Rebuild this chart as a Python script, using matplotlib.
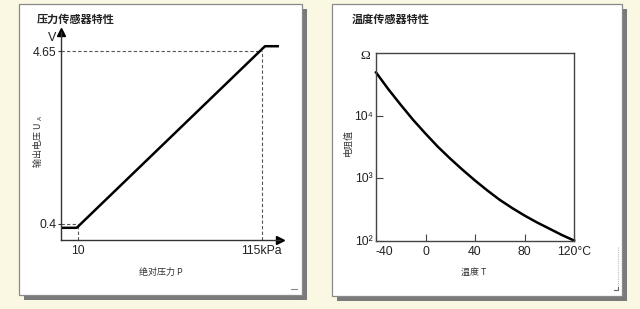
import matplotlib
matplotlib.use("Agg")
import matplotlib.pyplot as plt
from matplotlib.patches import Rectangle
from matplotlib.lines import Line2D

plt.rcParams['font.family'] = ['Liberation Sans', 'DejaVu Sans']

# ---- data: pressure sensor ----
pressure_kpa = [0, 9, 117, 125]
voltage_v = [0.30, 0.30, 4.77, 4.77]
p_ticks = [10, 115]
p_tick_labels = ['10', '115kPa']
v_ticks = [0.4, 4.65]
v_tick_labels = ['0.4', '4.65']

# ---- data: temperature sensor ----
temp_c = [-40, -30, -20, -10, 0, 10, 20, 30, 40, 50, 60, 70, 80, 90, 100, 110, 120]
resistance_ohm = [49000, 26300, 14800, 8510, 5130, 3160, 2040, 1350, 912,
                  631, 447, 331, 251, 195, 155, 123, 100]
t_ticks = [-40, 0, 40, 80, 120]
t_tick_labels = ['-40', '0', '40', '80', '120°C']
r_ticks = [1e2, 1e3, 1e4]
r_tick_labels = ['10²', '10³', '10⁴']

W, H = 640, 309
CJK = ['Noto Sans CJK SC', 'DejaVu Sans']
TICK_FS = 8.8

fig = plt.figure(figsize=(W / 100, H / 100), dpi=100, facecolor='#faf8e3')


def fx(x):
    return x / W


def fy(y):
    return 1 - y / H


def panel(x0, y0, x1, y1):
    sh = Rectangle((fx(x0 + 5), fy(y1 + 5)), (x1 - x0) / W, (y1 - y0) / H,
                   transform=fig.transFigure, facecolor='#7a7a7a', edgecolor='none', zorder=-3)
    pn = Rectangle((fx(x0), fy(y1)), (x1 - x0) / W, (y1 - y0) / H,
                   transform=fig.transFigure, facecolor='white', edgecolor='#8a8a8a',
                   linewidth=0.9, zorder=-2)
    fig.patches.extend([sh, pn])


panel(19, 4, 302, 295)
panel(332, 4, 622, 296)

# ---- left chart ----
ax1 = fig.add_axes([fx(61), fy(240), (280 - 61) / W, (240 - 32) / H])
ax1.patch.set_alpha(0)
ax1.set_xlim(0, 125.6)
ax1.set_ylim(0, 5.12)
for s in ['top', 'right']:
    ax1.spines[s].set_visible(False)
for s in ['left', 'bottom']:
    ax1.spines[s].set_color('#333333')
    ax1.spines[s].set_linewidth(1.0)

dash = (0, (3, 2))
ax1.plot([0, p_ticks[1]], [v_ticks[1], v_ticks[1]], ls=dash, color='#555555', lw=0.8)
ax1.plot([p_ticks[1], p_ticks[1]], [0, v_ticks[1]], ls=dash, color='#555555', lw=0.8)
ax1.plot([0, p_ticks[0]], [v_ticks[0], v_ticks[0]], ls=dash, color='#555555', lw=0.8)
ax1.plot([p_ticks[0], p_ticks[0]], [0, v_ticks[0]], ls=dash, color='#555555', lw=0.8)
ax1.plot(pressure_kpa, voltage_v, color='black', lw=1.8, clip_on=False, solid_capstyle='butt')

ax1.plot([1], [0], marker='>', ms=6, color='black', transform=ax1.transAxes, clip_on=False)
ax1.plot([0], [1], marker='^', ms=6, color='black', transform=ax1.transAxes, clip_on=False)

ax1.set_xticks(p_ticks, p_tick_labels)
ax1.set_yticks(v_ticks, v_tick_labels)
ax1.tick_params(axis='x', length=0, pad=3.5, labelsize=TICK_FS, labelcolor='#222222')
ax1.tick_params(axis='y', length=2, pad=1, labelsize=TICK_FS, labelcolor='#222222', color='#333333')

fig.text(fx(52), fy(38), 'V', ha='center', va='center', fontsize=9, color='#222222')
fig.text(fx(37), fy(19), '压力传感器特性', ha='left', va='center', fontsize=8,
         fontweight='bold', family=CJK, color='#222222')
fig.text(fx(161), fy(272), '绝对压力 P', ha='center', va='center', fontsize=6.5,
         family=CJK, color='#333333')
fig.text(fx(38), fy(167), '输出电压 U', ha='center', va='bottom', rotation=90,
         fontsize=6.5, family=CJK, color='#333333')
fig.text(fx(40.5), fy(116), 'A', ha='center', va='top', rotation=90,
         fontsize=4.5, color='#333333')

# ---- right chart ----
ax2 = fig.add_axes([fx(376), fy(240.5), (574 - 376) / W, (240.5 - 53) / H])
ax2.patch.set_alpha(0)
ax2.set_yscale('log')
ax2.set_xlim(-40, 120)
ax2.set_ylim(1e2, 1e5)
for s in ax2.spines.values():
    s.set_color('#444444')
    s.set_linewidth(1.0)
ax2.plot(temp_c, resistance_ohm, color='black', lw=1.8, clip_on=False)
ax2.set_xticks(t_ticks, t_tick_labels)
ax2.set_yticks(r_ticks, r_tick_labels)
ax2.minorticks_off()
ax2.tick_params(axis='both', direction='in', length=5, width=0.8, color='#444444',
                labelsize=TICK_FS, labelcolor='#222222')
ax2.tick_params(axis='x', pad=4)
ax2.tick_params(axis='y', pad=2)
ax2.get_xticklabels()[0].set_horizontalalignment('left')

fig.text(fx(365), fy(56), 'Ω', ha='center', va='center', fontsize=9.5,
         family=['Liberation Serif', 'DejaVu Serif'], color='#222222')
fig.text(fx(352), fy(19), '温度传感器特性', ha='left', va='center', fontsize=8,
         fontweight='bold', family=CJK, color='#222222')
fig.text(fx(474), fy(272), '温度 T', ha='center', va='center', fontsize=6.5,
         family=CJK, color='#333333')
fig.text(fx(348), fy(142), '电阻值', ha='center', va='center', rotation=90,
         fontsize=6.5, family=CJK, color='#333333')

# small decorative marks
fig.lines.append(Line2D([fx(291), fx(297)], [fy(289), fy(289)], transform=fig.transFigure,
                        color='#888888', lw=0.8))
fig.lines.append(Line2D([fx(618), fx(618)], [fy(247), fy(287)], transform=fig.transFigure,
                        color='#bbbbbb', lw=0.8, ls=(0, (1, 1))))
fig.lines.append(Line2D([fx(614), fx(618), fx(618)], [fy(290), fy(290), fy(287)],
                        transform=fig.transFigure, color='#666666', lw=0.8))

fig.savefig('out.png', dpi=100, facecolor=fig.get_facecolor())
